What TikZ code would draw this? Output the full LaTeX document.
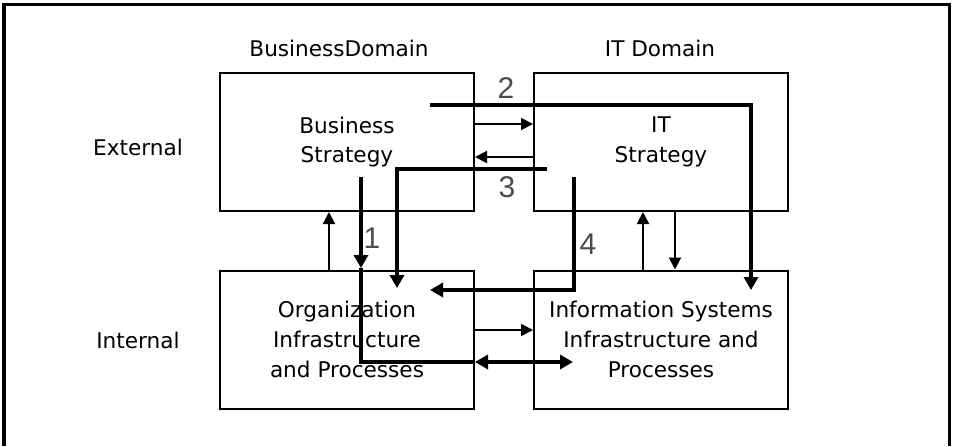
\documentclass[tikz,border=0pt]{standalone}
\usepackage{fontspec}
\setmainfont{DejaVu Sans}
\newfontfamily\numfont{Liberation Sans}
\usepackage{tikz}
\usetikzlibrary{arrows.meta}

\begin{document}
\begin{tikzpicture}[x=0.5pt, y=-0.5pt,
  box/.style={rectangle, draw, line width=1pt, minimum width=127pt, minimum height=69pt, inner sep=0pt, align=center, font=\fontsize{10.8}{14.8}\selectfont},
  label/.style={font=\fontsize{10.8}{14.8}\selectfont, inner sep=0pt},
  num/.style={font=\numfont\fontsize{15}{15}\selectfont, black!70, inner sep=0pt},
  flow/.style={line width=1pt, -{Triangle[length=6pt,width=6pt]}},
  link/.style={line width=2pt, -{Triangle[length=6.5pt,width=7pt]}},
  plain/.style={line width=2pt}
]
  \useasboundingbox (0,0) rectangle (955,446);
  % frame
  \draw[line width=1.5pt] (4,446) -- (4,4) -- (949,4) -- (949,446);
  % headings
  \node[label] (bdom) at (339,48) {BusinessDomain};
  \node[label] (itdom) at (660,48) {IT Domain};
  \node[label] (ext) at (138,147) {External};
  \node[label] (int) at (138,340) {Internal};
  % the four domains
  \node[box] (bs) at (347,142) {Business\\Strategy};
  \node[box] (it) at (661,142) {IT\\Strategy};
  \node[box] (org) at (347,339.5) {Organization\\Infrastructure\\and Processes};
  \node[box] (is) at (661,339.5) {Information Systems\\Infrastructure and\\Processes};
  % levels for the short arrows
  \coordinate (bsit) at (0,124);
  \coordinate (itbs) at (0,157);
  \coordinate (orgis) at (0,330);
  \coordinate (both) at (0,362);
  \coordinate (up1) at (329,0);
  \coordinate (up2) at (643,0);
  \coordinate (dn2) at (675,0);
  \draw[flow] (bs.east |- bsit) -- (it.west |- bsit);
  \draw[flow] (it.west |- itbs) -- (bs.east |- itbs);
  \draw[flow] (org.east |- orgis) -- (is.west |- orgis);
  \draw[flow] (org.north -| up1) -- (bs.south -| up1);
  \draw[flow] (is.north -| up2) -- (it.south -| up2);
  \draw[flow] (it.south -| dn2) -- (is.north -| dn2);
  % alignment paths 1-4
  \coordinate (s1) at (361,177); \coordinate (m1) at (361,268); \coordinate (e1) at (573,362);
  \coordinate (s2) at (430,105); \coordinate (e2) at (751,290);
  \coordinate (s3) at (547,169); \coordinate (e3) at (397,288);
  \coordinate (s4) at (574,177); \coordinate (e4) at (430,290);
  \draw[link] (s1) -- (m1);
  \draw[plain] (m1) |- (org.east |- both);
  \draw[link, {Triangle[length=6.5pt,width=7pt]}-{Triangle[length=6.5pt,width=7pt]}] (org.east |- both) -- (e1);
  \draw[link] (s2) -| (e2);
  \draw[link] (s3) -| (e3);
  \draw[link] (s4) |- (e4);
  \node[num] (n1) at (372,238) {1};
  \node[num] (n2) at (506,88) {2};
  \node[num] (n3) at (507,187) {3};
  \node[num] (n4) at (588,244) {4};
\end{tikzpicture}
\end{document}
